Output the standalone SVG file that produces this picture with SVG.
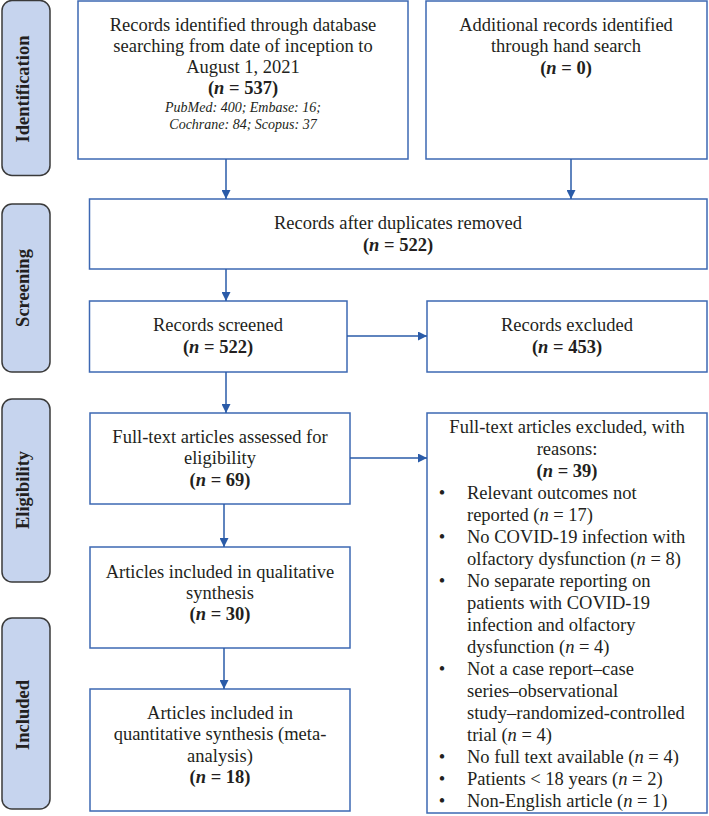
<svg xmlns="http://www.w3.org/2000/svg" width="709" height="816" viewBox="0 0 709 816">
<defs>
<style>
.box{fill:#fff;stroke:#3d68b3;stroke-width:1.5}
.lab{fill:#c6d4ee;stroke:#3a3a3a;stroke-width:1.5}
.t{font-family:"Liberation Serif","Times New Roman",serif;font-size:18.5px;fill:#231f20;text-anchor:middle}
.tl{font-family:"Liberation Serif","Times New Roman",serif;font-size:18.5px;fill:#231f20}
.s{font-family:"Liberation Serif","Times New Roman",serif;font-size:14px;font-style:italic;fill:#231f20;text-anchor:middle}
.lt{font-family:"Liberation Serif","Times New Roman",serif;font-size:18.5px;font-weight:bold;fill:#231f20;text-anchor:middle}
.b{font-weight:bold}
.i{font-style:italic}
.conn{stroke:#2a5ba8;stroke-width:1.5;fill:none;marker-end:url(#ah)}
</style>
<marker id="ah" viewBox="0 0 10 10" refX="10" refY="5" markerWidth="9" markerHeight="9" markerUnits="userSpaceOnUse" orient="auto">
<path d="M0,0 L10,5 L0,10 z" fill="#2a5ba8"/>
</marker>
</defs>

<g id="label-identification">
<rect class="lab" x="2" y="0.5" width="48" height="175" rx="10"/>
<text class="lt" transform="translate(29,89) rotate(-90)">Identification</text>
</g>
<g id="label-screening">
<rect class="lab" x="2" y="204" width="48" height="168" rx="10"/>
<text class="lt" transform="translate(29,288) rotate(-90)">Screening</text>
</g>
<g id="label-eligibility">
<rect class="lab" x="2" y="399" width="48" height="183" rx="10"/>
<text class="lt" transform="translate(29,490) rotate(-90)">Eligibility</text>
</g>
<g id="label-included">
<rect class="lab" x="2" y="618" width="48" height="191" rx="10"/>
<text class="lt" transform="translate(29,715) rotate(-90)">Included</text>
</g>

<g id="node-identified">
<rect class="box" x="78" y="1" width="330" height="158"/>
<text class="t" x="243" y="31">Records identified through database</text>
<text class="t" x="243" y="52">searching from date of inception to</text>
<text class="t" x="243" y="73">August 1, 2021</text>
<text class="t b" x="243" y="94">(<tspan class="i">n</tspan> = 537)</text>
<text class="s" x="243" y="112">PubMed: 400; Embase: 16;</text>
<text class="s" x="243" y="129">Cochrane: 84; Scopus: 37</text>
</g>

<g id="node-additional">
<rect class="box" x="426" y="1" width="281" height="158"/>
<text class="t" x="566" y="31">Additional records identified</text>
<text class="t" x="566" y="52">through hand search</text>
<text class="t b" x="566" y="74">(<tspan class="i">n</tspan> = 0)</text>
</g>

<g id="node-duplicates">
<rect class="box" x="89.5" y="199" width="617.5" height="70"/>
<text class="t" x="398" y="229">Records after duplicates removed</text>
<text class="t b" x="398" y="251">(<tspan class="i">n</tspan> = 522)</text>
</g>

<g id="node-screened">
<rect class="box" x="89.5" y="301" width="257.5" height="71"/>
<text class="t" x="218" y="331">Records screened</text>
<text class="t b" x="218" y="353">(<tspan class="i">n</tspan> = 522)</text>
</g>

<g id="node-excluded">
<rect class="box" x="427" y="301" width="280" height="71"/>
<text class="t" x="567" y="331">Records excluded</text>
<text class="t b" x="567" y="353">(<tspan class="i">n</tspan> = 453)</text>
</g>

<g id="node-fulltext">
<rect class="box" x="90" y="413" width="260" height="91"/>
<text class="t" x="220" y="443">Full-text articles assessed for</text>
<text class="t" x="220" y="464">eligibility</text>
<text class="t b" x="220" y="486">(<tspan class="i">n</tspan> = 69)</text>
</g>

<g id="node-fulltext-excluded">
<rect class="box" x="427" y="413" width="280" height="400"/>
<text class="t" x="567" y="433">Full-text articles excluded, with</text>
<text class="t" x="567" y="455">reasons:</text>
<text class="t b" x="567" y="477">(<tspan class="i">n</tspan> = 39)</text>
<text class="t" x="442" y="499">•</text>
<text class="tl" x="467" y="499">Relevant outcomes not</text>
<text class="tl" x="467" y="521">reported (<tspan class="i">n</tspan> = 17)</text>
<text class="t" x="442" y="543">•</text>
<text class="tl" x="467" y="543">No COVID-19 infection with</text>
<text class="tl" x="467" y="565">olfactory dysfunction (<tspan class="i">n</tspan> = 8)</text>
<text class="t" x="442" y="587">•</text>
<text class="tl" x="467" y="587">No separate reporting on</text>
<text class="tl" x="467" y="609">patients with COVID-19</text>
<text class="tl" x="467" y="631">infection and olfactory</text>
<text class="tl" x="467" y="653">dysfunction (<tspan class="i">n</tspan> = 4)</text>
<text class="t" x="442" y="675">•</text>
<text class="tl" x="467" y="675">Not a case report–case</text>
<text class="tl" x="467" y="697">series–observational</text>
<text class="tl" x="467" y="719">study–randomized-controlled</text>
<text class="tl" x="467" y="741">trial (<tspan class="i">n</tspan> = 4)</text>
<text class="t" x="442" y="763">•</text>
<text class="tl" x="467" y="763">No full text available (<tspan class="i">n</tspan> = 4)</text>
<text class="t" x="442" y="785">•</text>
<text class="tl" x="467" y="785">Patients &lt; 18 years (<tspan class="i">n</tspan> = 2)</text>
<text class="t" x="442" y="807">•</text>
<text class="tl" x="467" y="807">Non-English article (<tspan class="i">n</tspan> = 1)</text>
</g>

<g id="node-qualitative">
<rect class="box" x="90" y="547" width="260" height="101"/>
<text class="t" x="220" y="578">Articles included in qualitative</text>
<text class="t" x="220" y="599">synthesis</text>
<text class="t b" x="220" y="620">(<tspan class="i">n</tspan> = 30)</text>
</g>

<g id="node-quantitative">
<rect class="box" x="90" y="689" width="260" height="122"/>
<text class="t" x="220" y="719">Articles included in</text>
<text class="t" x="220" y="740">quantitative synthesis (meta-</text>
<text class="t" x="220" y="762">analysis)</text>
<text class="t b" x="220" y="783">(<tspan class="i">n</tspan> = 18)</text>
</g>

<g id="connectors">
<line class="conn" x1="226" y1="159" x2="226" y2="199"/>
<line class="conn" x1="571" y1="159" x2="571" y2="199"/>
<line class="conn" x1="226" y1="269" x2="226" y2="301"/>
<line class="conn" x1="347" y1="336" x2="427" y2="336"/>
<line class="conn" x1="226" y1="372" x2="226" y2="413"/>
<line class="conn" x1="350" y1="458" x2="427" y2="458"/>
<line class="conn" x1="224" y1="504" x2="224" y2="547"/>
<line class="conn" x1="224" y1="648" x2="224" y2="689"/>
</g>
</svg>
